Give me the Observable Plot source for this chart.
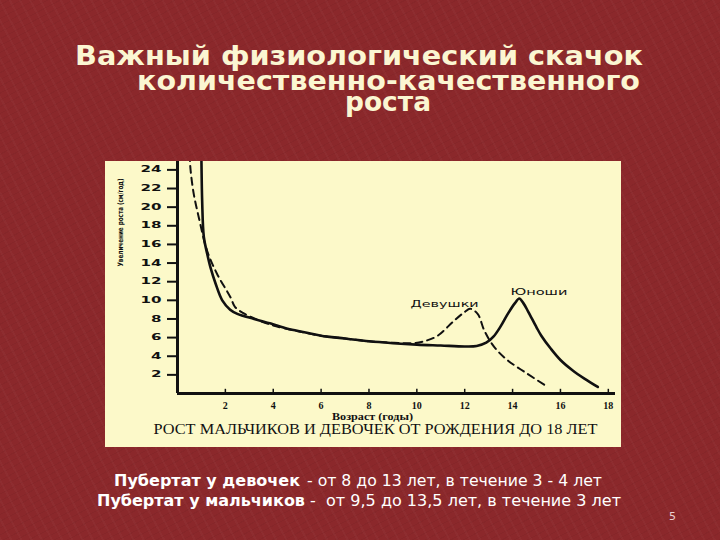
<!DOCTYPE html>
<html>
<head>
<meta charset="utf-8">
<script src="https://cdn.jsdelivr.net/npm/d3@7"></script>
<script src="https://cdn.jsdelivr.net/npm/@observablehq/plot@0.6"></script>
<style>
  html, body { margin: 0; padding: 0; }
  body {
    width: 720px; height: 540px; position: relative; overflow: hidden;
    background-color: #8b282b;
    background-image:
      repeating-linear-gradient(62deg, rgba(255,255,255,0.025) 0 2px, rgba(0,0,0,0) 2px 9px),
      repeating-linear-gradient(-28deg, rgba(0,0,0,0.04) 0 1px, rgba(0,0,0,0) 1px 6px);
  }
  #overlay { position: absolute; left: 0; top: 0; }
  #panel { position: absolute; left: 105px; top: 161px; width: 516px; height: 286px; background: #fcf9c9; }
  #panel svg { display: block; }
</style>
</head>
<body>
<svg id="overlay" width="720" height="540"></svg>
<div id="panel"></div>
<script>
// ---- data ----
const boysAge  = [0.97, 1.0, 1.03, 1.1, 1.24, 1.38, 1.59, 1.87, 2.2, 2.5, 3.2, 3.9, 4.6, 5.3, 6.0, 7.0, 8.0, 9.0, 10.0, 11.0, 12.0, 12.5, 12.9, 13.2, 13.5, 13.8, 14.1, 14.28, 14.45, 14.65, 15.0, 15.2, 15.6, 16.0, 16.5, 17.0, 17.56];
const boysRate = [30, 25, 20.7, 16.8, 15.0, 13.5, 11.8, 10.0, 9.0, 8.55, 8.0, 7.5, 6.94, 6.58, 6.2, 5.9, 5.6, 5.4, 5.25, 5.15, 5.05, 5.1, 5.45, 6.1, 7.2, 8.55, 9.7, 10.2, 9.7, 8.8, 7.1, 6.2, 4.8, 3.6, 2.5, 1.6, 0.7];
const girlsAge  = [0.5, 0.52, 0.55, 0.68, 0.89, 1.24, 1.66, 2.22, 2.4, 2.77, 3.3, 4.0, 5.0, 6.0, 7.0, 8.0, 9.0, 9.8, 10.3, 10.87, 11.55, 12.0, 12.22, 12.54, 12.82, 13.23, 13.8, 14.63, 15.47];
const girlsRate = [27, 25, 23.9, 21.4, 18.9, 15.3, 12.8, 10.3, 9.3, 8.6, 7.95, 7.3, 6.7, 6.2, 5.9, 5.6, 5.45, 5.4, 5.6, 6.2, 7.8, 8.75, 9.1, 8.55, 6.76, 5.0, 3.55, 2.1, 0.7];
const yTicks = [2, 4, 6, 8, 10, 12, 14, 16, 18, 20, 22, 24];
const xTicks = [2, 4, 6, 8, 10, 12, 14, 16, 18];
const seriesNames = ["Девушки", "Юноши"];
const seriesLabelAge  = [11.16, 15.1];
const seriesLabelRate = [9.55, 10.84];
const yTitle = "Увеличение роста (см/год)";
const xTitle = "Возраст (годы)";
const caption = "РОСТ МАЛЬЧИКОВ И ДЕВОЧЕК ОТ РОЖДЕНИЯ ДО 18 ЛЕТ";
const titleLines = ["Важный физиологический скачок", "количественно-качественного", "роста"];
const noteBold = ["Пубертат у девочек", "Пубертат у мальчиков"];
const noteRest = [" - от 8 до 13 лет, в течение 3 - 4 лет", " -  от 9,5 до 13,5 лет, в течение 3 лет"];
const pageNo = "5";

const boys = boysAge.map((a, i) => ({age: a, rate: boysRate[i]}));
const girls = girlsAge.map((a, i) => ({age: a, rate: girlsRate[i]}));
const seriesLabels = seriesNames.map((n, i) => ({name: n, age: seriesLabelAge[i], rate: seriesLabelRate[i]}));

// ---- chart ----
const chart = Plot.plot({
  width: 516, height: 286,
  marginLeft: 72, marginRight: 6, marginTop: 0, marginBottom: 54,
  x: {domain: [0, 18.3]},
  y: {domain: [0, 24.9]},
  style: {background: "transparent", color: "#111", overflow: "visible"},
  marks: [
    Plot.axisY({ticks: yTicks, tickSize: 10, tickPadding: 6, tickFormat: d => String(d), label: null,
      fontSize: 8, fontWeight: "bold", fontFamily: "DejaVu Sans", strokeWidth: 2}),
    Plot.axisX({ticks: xTicks, tickSize: 0, tickPadding: 8, tickFormat: d => String(d), label: null,
      fontSize: 10, fontWeight: "bold", fontFamily: "Liberation Serif"}),
    Plot.ruleX(xTicks, {y1: 0, y2: 0.45, strokeWidth: 1.5, stroke: "#111"}),
    Plot.ruleX([0], {y1: 0, y2: 24.9, strokeWidth: 3, stroke: "#111"}),
    Plot.ruleY([0], {x1: 0, x2: 18.3, strokeWidth: 3, stroke: "#111"}),
    Plot.line(girls, {x: "age", y: "rate", stroke: "#111", strokeWidth: 2, strokeDasharray: "7,5", curve: "catmull-rom", clip: true}),
    Plot.line(boys, {x: "age", y: "rate", stroke: "#111", strokeWidth: 2.6, curve: "catmull-rom", clip: true}),
    Plot.text(seriesLabels, {x: "age", y: "rate", text: "name", fontSize: 9, fontFamily: "DejaVu Sans", fill: "#111"}),
    Plot.text([yTitle], {frameAnchor: "left", dx: -57, dy: -11, rotate: -90, fontSize: 7.5, fontWeight: "bold", fontFamily: "DejaVu Sans Condensed, DejaVu Sans", fill: "#111"}),
    Plot.text([xTitle], {frameAnchor: "bottom", dx: -24, dy: 26, fontSize: 10.5, fontWeight: "bold", fontFamily: "Liberation Serif", fill: "#111"}),
    Plot.text([caption], {frameAnchor: "bottom", dx: -21, dy: 40, fontSize: 15, fontFamily: "Liberation Serif", fill: "#111"})
  ]
});
document.getElementById("panel").appendChild(chart);

const fitWidths = {"Девушки": 68, "Юноши": 57};
fitWidths[yTitle] = 88;
fitWidths[caption] = 444;
fitWidths[xTitle] = 81;
d3.select(chart).selectAll("text").each(function() {
  const w = fitWidths[this.textContent];
  if (w) { this.setAttribute("textLength", w); this.setAttribute("lengthAdjust", "spacingAndGlyphs"); }
});
d3.select(chart).selectAll('g[aria-label="y-axis tick label"] text').each(function() {
  this.setAttribute("textLength", 10.5 * this.textContent.length);
  this.setAttribute("lengthAdjust", "spacingAndGlyphs");
});

// ---- slide texts ----
const ov = d3.select("#overlay");
const titleSpec = [[75, 65, 568], [137, 90, 503], [345, 111, 86]];
titleLines.forEach((t, i) => {
  ov.append("text").attr("x", titleSpec[i][0]).attr("y", titleSpec[i][1])
    .attr("textLength", titleSpec[i][2]).attr("lengthAdjust", "spacingAndGlyphs")
    .attr("font-family", "DejaVu Sans").attr("font-weight", "bold").attr("font-size", 26)
    .attr("fill", "#fbf6d2").text(t);
});
const noteSpec = [[114, 486, 186, 302, 300], [97, 506, 208, 305, 316]];
noteBold.forEach((b, i) => {
  const s = noteSpec[i];
  ov.append("text").attr("x", s[0]).attr("y", s[1])
    .attr("textLength", s[2]).attr("lengthAdjust", "spacingAndGlyphs")
    .attr("font-family", "DejaVu Sans").attr("font-weight", "bold").attr("font-size", 15)
    .attr("fill", "#ffffff").text(b);
  ov.append("text").attr("x", s[3]).attr("y", s[1])
    .attr("textLength", s[4]).attr("lengthAdjust", "spacingAndGlyphs")
    .attr("font-family", "DejaVu Sans Condensed, DejaVu Sans").attr("font-size", 15)
    .attr("fill", "#ffffff").attr("xml:space", "preserve").style("white-space", "pre").text(noteRest[i]);
});
ov.append("text").attr("x", 669).attr("y", 520).attr("font-family", "DejaVu Sans")
  .attr("font-size", 11).attr("fill", "#ead0cf").text(pageNo);
</script>
</body>
</html>
